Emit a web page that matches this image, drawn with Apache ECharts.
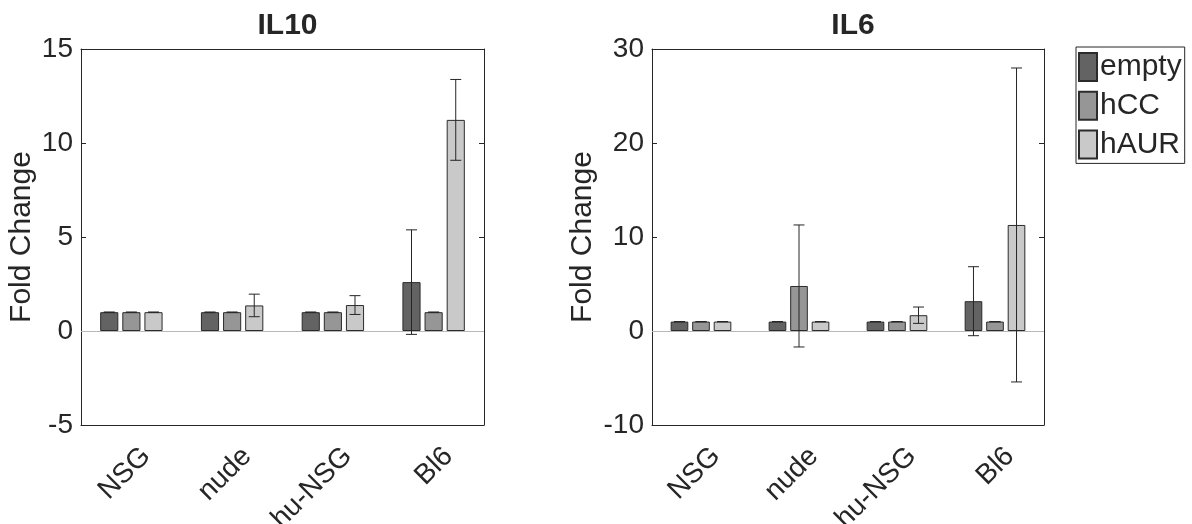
<!DOCTYPE html>
<html>
<head>
    <meta charset="UTF-8">
    <script type="text/javascript" src="https://cdn.jsdelivr.net/npm/echarts@6/dist/echarts.min.js"></script>
    <style type="text/css">
        *{
            margin: 0;
            padding: 0;
        }
        #main{
            width: 1192px;
            height: 524px;
            background: #fff;
        }
    </style>
</head>
<body>
<div id="main"></div>
<script type="text/javascript">
    var categories = ['NSG', 'nude', 'hu-NSG', 'Bl6'];
    var groups = ['empty', 'hCC', 'hAUR'];
    var colors = ['#636363', '#969696', '#c9c9c9'];

    // IL10
    var il10Empty = [1, 1, 1, 2.6];
    var il10EmptyErr = [0, 0, 0, 2.78];
    var il10hCC = [1, 1, 1, 1];
    var il10hCCErr = [0, 0, 0, 0];
    var il10hAUR = [1, 1.36, 1.38, 11.23];
    var il10hAURErr = [0, 0.6, 0.5, 2.15];

    // IL6
    var il6Empty = [1, 1, 1, 3.17];
    var il6EmptyErr = [0, 0, 0, 3.67];
    var il6hCC = [1, 4.79, 1, 1];
    var il6hCCErr = [0, 6.49, 0, 0];
    var il6hAUR = [1, 1, 1.68, 11.28];
    var il6hAURErr = [0, 0, 0.87, 16.7];

    var textColor = '#262626';
    var barPct = 0.18, gapPct = 0.22;

    function errRender(k) {
        return function (params, api) {
            var x = api.value(0), v = api.value(1), e = api.value(2);
            var band = api.size([1, 0])[0];
            var w = band * barPct;
            var off = (k - 1) * w * (1 + gapPct);
            var hi = api.coord([x, v + e]);
            var lo = api.coord([x, v - e]);
            var cx = hi[0] + off;
            var c = 5.5;
            var st = {stroke: '#262626', lineWidth: 1};
            return {
                type: 'group',
                children: [
                    {type: 'line', shape: {x1: cx, y1: hi[1], x2: cx, y2: lo[1]}, style: st},
                    {type: 'line', shape: {x1: cx - c, y1: hi[1], x2: cx + c, y2: hi[1]}, style: st},
                    {type: 'line', shape: {x1: cx - c, y1: lo[1], x2: cx + c, y2: lo[1]}, style: st}
                ]
            };
        };
    }

    function errData(vals, errs) {
        return vals.map(function (v, i) { return [i, v, errs[i]]; });
    }

    function xAxes(gi) {
        return [{
            type: 'category', gridIndex: gi, data: categories, position: 'bottom',
            axisLine: {onZero: false, lineStyle: {color: textColor, width: 1}},
            axisTick: {inside: true, alignWithLabel: true, length: 5, lineStyle: {color: textColor}},
            axisLabel: {
                interval: 0, rotate: 45, margin: 5, verticalAlign: 'top', padding: [12, 5, 0, 0],
                fontSize: 28, color: textColor, fontFamily: 'Liberation Sans'
            }
        }, {
            type: 'category', gridIndex: gi, data: categories, position: 'top',
            axisLine: {onZero: false, lineStyle: {color: textColor, width: 1}},
            axisTick: {inside: true, alignWithLabel: true, length: 5, lineStyle: {color: textColor}},
            axisLabel: {show: false}
        }];
    }

    function yAxes(gi, min, max, step, gap) {
        return [{
            type: 'value', gridIndex: gi, min: min, max: max, interval: step, position: 'left',
            name: 'Fold Change', nameLocation: 'middle', nameGap: gap,
            nameTextStyle: {fontSize: 30, color: textColor, fontFamily: 'Liberation Sans'},
            axisLine: {show: true, onZero: false, lineStyle: {color: textColor, width: 1}},
            axisTick: {show: true, inside: true, length: 5, lineStyle: {color: textColor}},
            axisLabel: {fontSize: 28, color: textColor, margin: 8, fontFamily: 'Liberation Sans'},
            splitLine: {show: false}
        }, {
            type: 'value', gridIndex: gi, min: min, max: max, interval: step, position: 'right',
            axisLine: {show: true, onZero: false, lineStyle: {color: textColor, width: 1}},
            axisTick: {show: true, inside: true, length: 5, lineStyle: {color: textColor}},
            axisLabel: {show: false},
            splitLine: {show: false}
        }];
    }

    function barSeries(name, k, vals, xi, yi, zero) {
        var s = {
            name: name, type: 'bar', xAxisIndex: xi, yAxisIndex: yi, data: vals,
            barWidth: (barPct * 100) + '%', barGap: (gapPct * 100) + '%',
            itemStyle: {color: colors[k], borderColor: '#2b2b2b', borderWidth: 1},
            silent: true, z: 2
        };
        if (zero) {
            s.markLine = {
                silent: true, symbol: 'none', label: {show: false},
                lineStyle: {color: '#b8b8b8', width: 1, type: 'solid'},
                data: [{yAxis: 0}], z: 1
            };
        }
        return s;
    }

    function errSeries(k, vals, errs, xi, yi) {
        return {
            type: 'custom', xAxisIndex: xi, yAxisIndex: yi,
            renderItem: errRender(k), data: errData(vals, errs), z: 5, silent: true
        };
    }

    var chart = echarts.init(document.getElementById('main'));
    var option = {
        animation: false,
        textStyle: {fontFamily: 'Liberation Sans'},
        title: [
            {text: 'IL10', left: 282.5, textAlign: 'center', top: 6,
                textStyle: {fontSize: 30, fontWeight: 'bold', color: textColor, fontFamily: 'Liberation Sans'}},
            {text: 'IL6', left: 848, textAlign: 'center', top: 6,
                textStyle: {fontSize: 30, fontWeight: 'bold', color: textColor, fontFamily: 'Liberation Sans'}}
        ],
        legend: {
            data: groups, orient: 'vertical', left: 1076, top: 47,
            itemWidth: 18, itemHeight: 28, itemGap: 8.7,
            padding: [5, 3, 4, 2],
            borderColor: textColor, borderWidth: 1,
            textStyle: {fontSize: 30, color: textColor, fontFamily: 'Liberation Sans', padding: [0, 0, 0, -2]},
            icon: 'rect', selectedMode: false
        },
        grid: [
            {left: 81, top: 49, width: 403, height: 376, outerBoundsMode: 'none'},
            {left: 652, top: 49, width: 392, height: 376, outerBoundsMode: 'none'}
        ],
        xAxis: xAxes(0).concat(xAxes(1)),
        yAxis: yAxes(0, -5, 15, 5, 44).concat(yAxes(1, -10, 30, 10, 54)),
        series: [
            barSeries('empty', 0, il10Empty, 0, 0, true),
            barSeries('hCC', 1, il10hCC, 0, 0, false),
            barSeries('hAUR', 2, il10hAUR, 0, 0, false),
            errSeries(0, il10Empty, il10EmptyErr, 0, 0),
            errSeries(1, il10hCC, il10hCCErr, 0, 0),
            errSeries(2, il10hAUR, il10hAURErr, 0, 0),
            barSeries('empty', 0, il6Empty, 2, 2, true),
            barSeries('hCC', 1, il6hCC, 2, 2, false),
            barSeries('hAUR', 2, il6hAUR, 2, 2, false),
            errSeries(0, il6Empty, il6EmptyErr, 2, 2),
            errSeries(1, il6hCC, il6hCCErr, 2, 2),
            errSeries(2, il6hAUR, il6hAURErr, 2, 2)
        ]
    };
    chart.setOption(option);
</script>
</body>
</html>
